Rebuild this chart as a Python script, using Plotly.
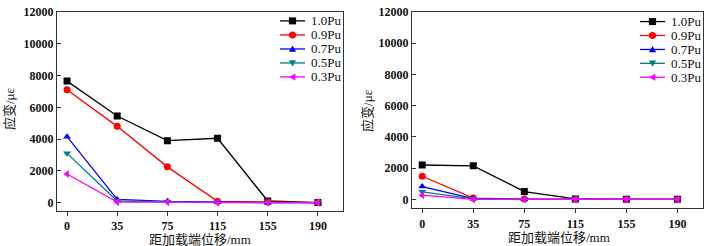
import plotly.graph_objects as go

categories = ["0", "35", "75", "115", "155", "190"]
series_names = ["1.0Pu", "0.9Pu", "0.7Pu", "0.5Pu", "0.3Pu"]

left_10 = [7650, 5450, 3900, 4050, 100, 0]
left_09 = [7100, 4800, 2250, 80, 40, 0]
left_07 = [4150, 200, 80, 20, 0, 0]
left_05 = [3100, 100, 50, 0, 0, 0]
left_03 = [1800, 30, 30, 0, 0, 0]

right_10 = [2200, 2150, 500, 30, 0, 0]
right_09 = [1480, 80, 20, 0, 0, 0]
right_07 = [820, 50, 0, 0, 0, 0]
right_05 = [480, 30, 0, 0, 0, 0]
right_03 = [270, 0, 0, 0, 0, 0]

y_ticks = [0, 2000, 4000, 6000, 8000, 10000, 12000]
y_ticktext = [str(v) for v in y_ticks]

colors = ["#000000", "#ff0000", "#0000ff", "#008080", "#ff00ff"]
symbols = ["square", "circle", "triangle-up", "triangle-down", "triangle-left"]

left_data = [left_10, left_09, left_07, left_05, left_03]
right_data = [right_10, right_09, right_07, right_05, right_03]

W, H = 708, 246
serif = "Liberation Serif, Times New Roman, serif"
cjk = "Liberation Serif, Noto Sans CJK SC, serif"

fig = go.Figure()
xpos = list(range(len(categories)))
for i, name in enumerate(series_names):
    fig.add_trace(go.Scatter(
        x=xpos, y=left_data[i], name=name, mode="lines+markers",
        line=dict(color=colors[i], width=1.3),
        marker=dict(symbol=symbols[i], size=7, color=colors[i]),
        xaxis="x", yaxis="y", showlegend=False))
for i, name in enumerate(series_names):
    fig.add_trace(go.Scatter(
        x=xpos, y=right_data[i], name=name, mode="lines+markers",
        line=dict(color=colors[i], width=1.3),
        marker=dict(symbol=symbols[i], size=7, color=colors[i]),
        xaxis="x2", yaxis="y2", showlegend=False))

# ---- manual legends (pixel layout converted to paper coords) ----
def px(x):
    return x / W

def py(y):
    return 1 - y / H

shapes = []
annotations = []

def marker_shape(sym, cx, cy, color, r=3.6):
    if sym == "square":
        return dict(type="rect", xref="paper", yref="paper",
                    x0=px(cx - r), x1=px(cx + r), y0=py(cy + r), y1=py(cy - r),
                    fillcolor=color, line=dict(width=0))
    if sym == "circle":
        return dict(type="circle", xref="paper", yref="paper",
                    x0=px(cx - r), x1=px(cx + r), y0=py(cy + r), y1=py(cy - r),
                    fillcolor=color, line=dict(width=0))
    if sym == "triangle-up":
        pts = [(cx, cy - r), (cx + r, cy + r * 0.8), (cx - r, cy + r * 0.8)]
    elif sym == "triangle-down":
        pts = [(cx, cy + r), (cx + r, cy - r * 0.8), (cx - r, cy - r * 0.8)]
    else:
        pts = [(cx - r, cy), (cx + r * 0.8, cy - r), (cx + r * 0.8, cy + r)]
    path = "M " + " L ".join(f"{px(a):.5f},{py(b):.5f}" for a, b in pts) + " Z"
    return dict(type="path", xref="paper", yref="paper", path=path,
                fillcolor=color, line=dict(width=0))

def add_legend(x_line0, x_line1, x_text, rows):
    for i, name in enumerate(series_names):
        yy = rows[i]
        shapes.append(dict(type="line", xref="paper", yref="paper",
                           x0=px(x_line0), x1=px(x_line1), y0=py(yy), y1=py(yy),
                           line=dict(color=colors[i], width=1.3)))
        shapes.append(marker_shape(symbols[i], (x_line0 + x_line1) / 2, yy, colors[i]))
        annotations.append(dict(text=name, x=px(x_text), y=py(yy), xref="paper", yref="paper",
                                xanchor="left", yanchor="middle", showarrow=False,
                                font=dict(family=serif, size=13, color="#111111")))

add_legend(280, 305, 309, [14.3, 28.7, 43.2, 57.6, 72.0])
add_legend(640, 665, 669, [15.0, 29.3, 43.7, 58.0, 72.3])

for cx, cy in [(200, 239), (559, 237)]:
    annotations.append(dict(text="距加载端位移/mm", x=px(cx), y=py(cy), xref="paper", yref="paper",
                            xanchor="center", yanchor="middle", showarrow=False,
                            font=dict(family=cjk, size=13, color="#111111")))
for cx, cy in [(9, 105), (368, 107)]:
    annotations.append(dict(text="应变/με", x=px(cx), y=py(cy), xref="paper", yref="paper",
                            xanchor="center", yanchor="middle", showarrow=False, textangle=-90,
                            font=dict(family=cjk, size=13, color="#111111")))

tickfont = dict(family=serif, size=12, color="#111111", weight="bold")
common = dict(showline=True, linecolor="#333333", linewidth=1, mirror=True,
              showgrid=False, zeroline=False, tickcolor="#333333", ticklen=4,
              tickfont=tickfont, ticklabeloverflow="allow")

fig.update_layout(
    width=W, height=H,
    margin=dict(l=0, r=0, t=0, b=0),
    plot_bgcolor="white", paper_bgcolor="white",
    showlegend=False,
    xaxis=dict(domain=[px(57), px(343)], range=[-0.2, 5.5], tickvals=xpos,
               ticktext=categories, anchor="y", ticks="outside", **common),
    yaxis=dict(domain=[py(210), py(5)], range=[-530, 12010], tickvals=y_ticks,
               ticktext=y_ticktext, anchor="x", ticks="inside", **common),
    xaxis2=dict(domain=[px(412), px(703)], range=[-0.2, 5.5], tickvals=xpos,
                ticktext=categories, anchor="y2", ticks="outside", **common),
    yaxis2=dict(domain=[py(207), py(5)], range=[-560, 12010], tickvals=y_ticks,
                ticktext=y_ticktext, anchor="x2", ticks="inside", **common),
    shapes=shapes,
    annotations=annotations,
)

fig.write_html("out.html", config={"displayModeBar": False},
               post_script="document.body.style.margin='0';document.body.style.overflow='hidden';")
